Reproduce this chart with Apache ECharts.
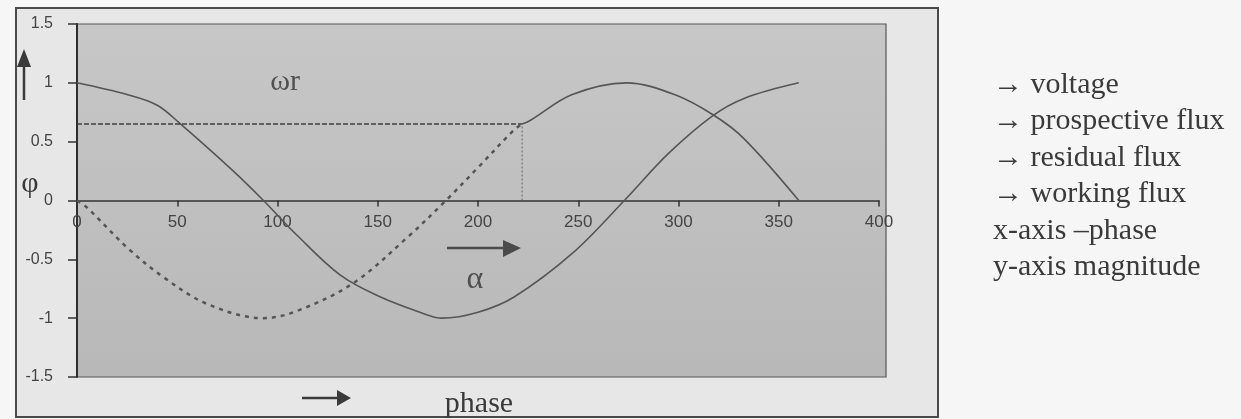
<!DOCTYPE html>
<html>
<head>
<meta charset="utf-8">
<title>Flux and voltage versus phase</title>
<script src="https://cdn.jsdelivr.net/npm/echarts@6/dist/echarts.min.js"></script>
<style>
  html, body { margin: 0; padding: 0; background: #f6f6f6; }
  #chart { width: 1241px; height: 419px; }
</style>
</head>
<body>
<div id="chart"></div>
<script>
// Supply voltage (cosine-shaped), phase in degrees vs magnitude
const voltage = [
  [0, 1.0], [25, 0.9], [40, 0.81], [51, 0.66], [78, 0.25], [93, 0],
  [110, -0.3], [131, -0.63], [150, -0.81], [171, -0.95], [182, -1.0],
  [200, -0.95], [218, -0.82], [247, -0.45], [273, 0], [295, 0.4],
  [317, 0.72], [333, 0.87], [360, 1.0]
];
// Prospective flux up to the switching instant (dotted)
const prospectiveFlux = [
  [0, 0], [5, -0.06], [25, -0.4], [43, -0.65], [65, -0.88], [93, -1.0],
  [111, -0.93], [138, -0.7], [165, -0.31], [184, 0], [200, 0.28],
  [218, 0.6], [222, 0.65]
];
// Working flux after the switching instant (solid)
const workingFlux = [
  [222, 0.65], [226, 0.68], [247, 0.9], [274, 1.0], [298, 0.9],
  [318, 0.72], [333, 0.52], [360, 0]
];
// Residual flux level and the phase at which it is reached
const residualLevel = 0.65;
const switchPhase = 222;

// Text block on the right
const noteLines = [
  '\u2192 voltage',
  '\u2192 prospective flux',
  '\u2192 residual flux',
  '\u2192 working flux',
  'x-axis \u2013phase',
  'y-axis magnitude'
];

const lineGrey = '#555';
const serif = '"Liberation Serif", "DejaVu Serif", serif';
const sans = '"Liberation Sans", Arial, sans-serif';

const GRID = { left: 77, top: 24, width: 802, height: 353 };

const chart = echarts.init(document.getElementById('chart'), null, { renderer: 'canvas' });

const graphics = [
  // outer frame
  { type: 'rect', z: -10, shape: { x: 16, y: 8, width: 922, height: 409 },
    style: { fill: '#e7e7e7', stroke: '#4a4a4a', lineWidth: 2 } },
  // plot panel
  { type: 'rect', z: -9, shape: { x: 77, y: 24, width: 809, height: 353 },
    style: {
      fill: new echarts.graphic.LinearGradient(0, 0, 0, 1, [
        { offset: 0, color: '#c7c7c7' }, { offset: 1, color: '#b8b8b8' }
      ]),
      stroke: '#555', lineWidth: 1.2
    } },
  // upward arrow beside the y axis
  { type: 'line', shape: { x1: 24, y1: 100, x2: 24, y2: 62 },
    style: { stroke: '#3a3a3a', lineWidth: 2.5 } },
  { type: 'polygon', shape: { points: [[17, 67], [31, 67], [24, 49]] },
    style: { fill: '#3a3a3a' } },
  // arrow inside the plot
  { type: 'line', shape: { x1: 447, y1: 248, x2: 506, y2: 248 },
    style: { stroke: '#4a4a4a', lineWidth: 2.5 } },
  { type: 'polygon', shape: { points: [[503, 240], [503, 257], [521, 248]] },
    style: { fill: '#4a4a4a' } },
  // arrow under the plot
  { type: 'line', shape: { x1: 302, y1: 398, x2: 340, y2: 398 },
    style: { stroke: '#3a3a3a', lineWidth: 2.5 } },
  { type: 'polygon', shape: { points: [[337, 390], [337, 406], [351, 398]] },
    style: { fill: '#3a3a3a' } },
  // symbols
  { type: 'text', style: { text: '\u03c9r', x: 285, y: 82, fill: '#505050',
      font: '30px ' + serif, textAlign: 'center', textVerticalAlign: 'middle' } },
  { type: 'text', style: { text: '\u03b1', x: 475, y: 280, fill: '#505050',
      font: '32px ' + serif, textAlign: 'center', textVerticalAlign: 'middle' } },
  { type: 'text', style: { text: '\u03c6', x: 30, y: 184, fill: '#3a3a3a',
      font: '30px ' + serif, textAlign: 'center', textVerticalAlign: 'middle' } },
  { type: 'text', style: { text: 'phase', x: 479, y: 404, fill: '#3a3a3a',
      font: '30px ' + serif, textAlign: 'center', textVerticalAlign: 'middle' } }
];

noteLines.forEach(function (t, i) {
  graphics.push({ type: 'text', style: {
    text: t, x: 993, y: 85 + i * 36.5, fill: '#3a3a3a',
    font: '30px ' + serif, textAlign: 'left', textVerticalAlign: 'middle'
  } });
});

const yMin = -1.5, yMax = 1.5;
// the horizontal axis sits on the zero line of the magnitude scale
const zeroOffset = -GRID.height * (0 - yMin) / (yMax - yMin);

const option = {
  animation: false,
  backgroundColor: 'transparent',
  grid: Object.assign({ containLabel: false }, GRID),
  xAxis: {
    type: 'value', min: 0, max: 400, interval: 50,
    offset: zeroOffset,
    axisLine: { onZero: false, lineStyle: { color: '#333', width: 1.5 } },
    axisTick: { show: true, inside: false, length: 6, lineStyle: { color: '#333', width: 1.5 } },
    axisLabel: { color: '#444', fontFamily: sans, fontSize: 17, margin: 13 },
    splitLine: { show: false }
  },
  yAxis: {
    type: 'value', min: yMin, max: yMax, interval: 0.5,
    axisLine: { show: true, onZero: false, lineStyle: { color: '#2e2e2e', width: 2 } },
    axisTick: { show: true, inside: false, length: 9, lineStyle: { color: '#333', width: 1.5 } },
    axisLabel: { color: '#444', fontFamily: sans, fontSize: 16, margin: 24 },
    splitLine: { show: false }
  },
  series: [
    { name: 'voltage', type: 'line', data: voltage, showSymbol: false, smooth: 0.35,
      lineStyle: { color: lineGrey, width: 1.6 } },
    { name: 'prospective flux', type: 'line', data: prospectiveFlux, showSymbol: false, smooth: 0.35,
      lineStyle: { color: lineGrey, width: 2.5, type: [4, 5] } },
    { name: 'residual flux', type: 'line', showSymbol: false,
      data: [[0, residualLevel], [switchPhase, residualLevel]],
      lineStyle: { color: '#404040', width: 1.5, type: [5, 2] } },
    { name: 'switching instant', type: 'line', showSymbol: false,
      data: [[switchPhase, 0], [switchPhase, residualLevel]],
      lineStyle: { color: '#666', width: 1, type: [2, 2] } },
    { name: 'working flux', type: 'line', data: workingFlux, showSymbol: false, smooth: 0.35,
      lineStyle: { color: lineGrey, width: 1.6 } }
  ],
  graphic: graphics
};

chart.setOption(option);
</script>
</body>
</html>
